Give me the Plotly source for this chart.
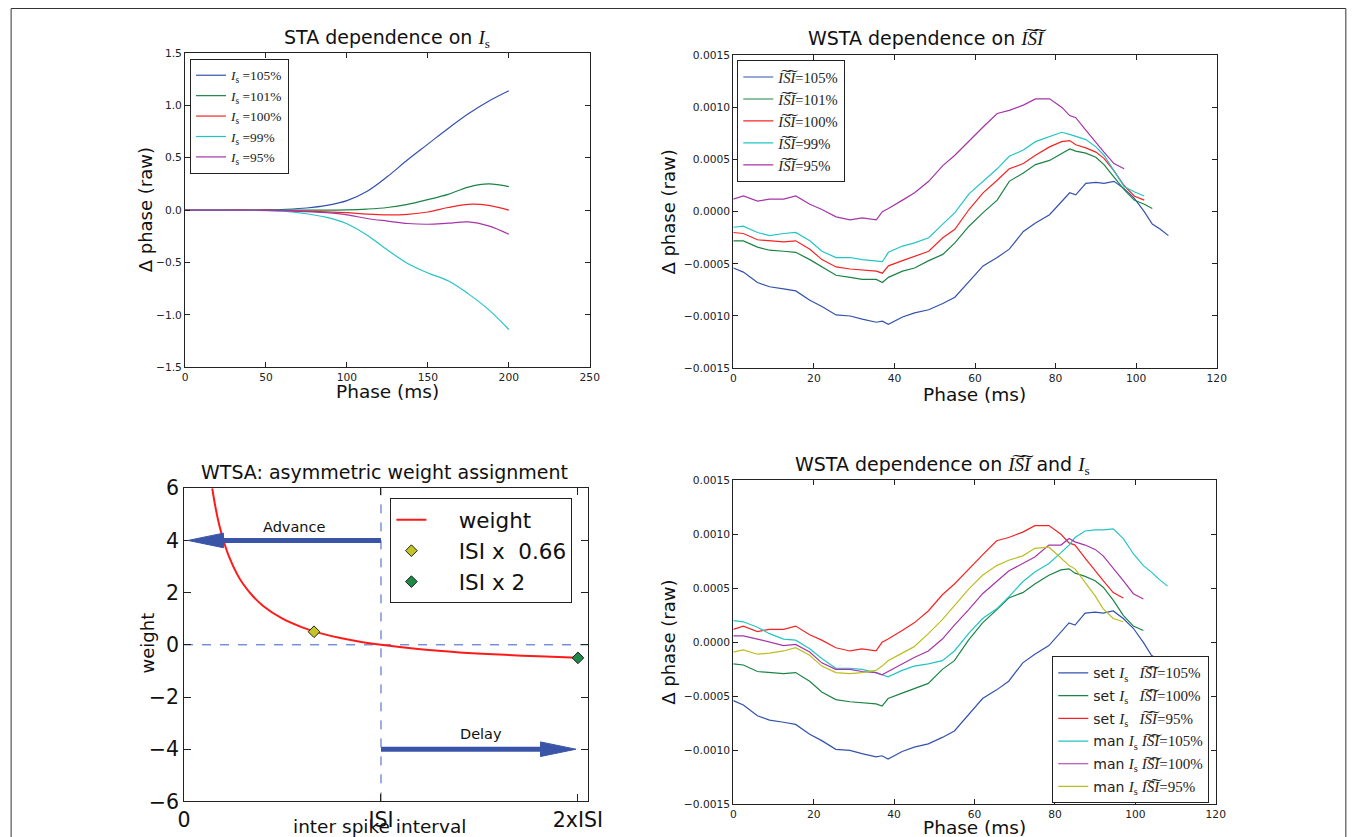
import plotly.graph_objects as go

# figure size in page pixels
W, H = 1362, 842
# the photographed picture shows the page shifted and slightly shrunk; positions below are
# given in picture pixels and mapped back to page pixels with this measured transform
AX, SX, AY, SY = 12.4, 0.987, 20.0, 0.971

# ---- STA dependence on I_s (smooth curves)
sta_phase = [0, 25, 50, 62.5, 75, 87.5, 100, 112.5, 125, 137.5, 150, 162.5, 175, 187.5, 200]
sta_105 = [0, 0, 0.002, 0.008, 0.02, 0.045, 0.09, 0.18, 0.32, 0.48, 0.63, 0.78, 0.92, 1.04, 1.14]
sta_101 = [0, 0, 0, 0, 0, 0, 0.002, 0.01, 0.025, 0.055, 0.1, 0.15, 0.22, 0.25, 0.225]
sta_100 = [0, 0, 0, -0.004, -0.01, -0.016, -0.025, -0.038, -0.045, -0.04, -0.018, 0.025, 0.055, 0.045, 0.0]
sta_99 = [0, -0.001, -0.005, -0.013, -0.035, -0.07, -0.13, -0.24, -0.38, -0.51, -0.6, -0.675, -0.8, -0.95, -1.14]
sta_95 = [0, 0, -0.002, -0.007, -0.015, -0.025, -0.045, -0.08, -0.105, -0.128, -0.135, -0.125, -0.113, -0.15, -0.23]

# ---- WSTA curves (phase in ms)
wsta_phase = [0, 2.5, 6, 9, 12.5, 15.5, 19, 22, 25.5, 29, 32, 35.5, 37, 38.5, 42, 45, 48.5, 52, 55, 58.5,
              62, 65.5, 68.5, 72, 75, 78.5, 81.5, 83.5, 85, 87.5, 90, 92, 94.5, 97, 99.5, 102, 104, 106, 108]
isi_105 = [-0.00054, -0.00058, -0.00068, -0.00072, -0.00074, -0.00076, -0.00085, -0.00091, -0.00099, -0.00100,
           -0.00103, -0.00106, -0.00105, -0.00108, -0.00101, -0.00097, -0.00094, -0.00088, -0.00082, -0.00067,
           -0.00052, -0.00044, -0.00036, -0.00019, -0.00011, -0.00003, 0.00010, 0.00018, 0.00016, 0.00027,
           0.00028, 0.00027, 0.00029, 0.00022, 0.00013, 0.00000, -0.00012, -0.00017, -0.00023]
isi_101 = [-0.00028, -0.00028, -0.00034, -0.00037, -0.00038, -0.00039, -0.00046, -0.00053, -0.00061, -0.00063,
           -0.00065, -0.00065, -0.00068, -0.00063, -0.00057, -0.00054, -0.00047, -0.00041, -0.00030, -0.00014,
           -0.00001, 0.00011, 0.00029, 0.00037, 0.00045, 0.00049, 0.00056, 0.00060, 0.00058, 0.00056,
           0.00052, 0.00045, 0.00033, 0.00021, 0.00011, 0.00007, 0.00003]
isi_100 = [-0.00020, -0.00021, -0.00027, -0.00028, -0.00029, -0.00028, -0.00036, -0.00046, -0.00053, -0.00055,
           -0.00056, -0.00057, -0.00059, -0.00052, -0.00047, -0.00043, -0.00038, -0.00025, -0.00017, 0.00002,
           0.00018, 0.00030, 0.00041, 0.00046, 0.00054, 0.00062, 0.00067, 0.00068, 0.00064, 0.00061,
           0.00057, 0.00051, 0.00039, 0.00025, 0.00015, 0.00011]
isi_99 = [-0.00015, -0.00014, -0.00020, -0.00023, -0.00021, -0.00020, -0.00028, -0.00038, -0.00044, -0.00044,
          -0.00046, -0.00047, -0.00048, -0.00039, -0.00033, -0.00030, -0.00025, -0.00012, -0.00001, 0.00017,
          0.00029, 0.00041, 0.00053, 0.00059, 0.00067, 0.00072, 0.00076, 0.00074, 0.00072, 0.00069,
          0.00062, 0.00054, 0.00039, 0.00024, 0.00019, 0.00015]
isi_95 = [0.00012, 0.00015, 0.00010, 0.00012, 0.00012, 0.00015, 0.00007, 0.00002, -0.00005, -0.00008,
          -0.00006, -0.00008, 0.00000, 0.00003, 0.00011, 0.00018, 0.00029, 0.00044, 0.00054, 0.00068,
          0.00081, 0.00094, 0.00097, 0.00102, 0.00108, 0.00108, 0.00100, 0.00092, 0.00090, 0.00078,
          0.00066, 0.00057, 0.00046, 0.00041]
man_105 = [0.00020, 0.00019, 0.00014, 0.00008, 0.00003, 0.00002, -0.00006, -0.00015, -0.00024, -0.00024,
           -0.00025, -0.00028, -0.00030, -0.00032, -0.00026, -0.00022, -0.00020, -0.00017, -0.00008, 0.00008,
           0.00022, 0.00031, 0.00042, 0.00056, 0.00065, 0.00073, 0.00083, 0.00090, 0.00097, 0.00103,
           0.00104, 0.00104, 0.00105, 0.00096, 0.00082, 0.00071, 0.00065, 0.00058, 0.00052]
man_100 = [0.00006, 0.00006, 0.00003, 0.00000, -0.00003, -0.00002, -0.00009, -0.00019, -0.00025, -0.00025,
           -0.00027, -0.00028, -0.00030, -0.00027, -0.00020, -0.00014, -0.00008, 0.00003, 0.00016, 0.00030,
           0.00045, 0.00056, 0.00066, 0.00073, 0.00079, 0.00090, 0.00090, 0.00096, 0.00093, 0.00090,
           0.00086, 0.00080, 0.00069, 0.00057, 0.00045, 0.00040]
man_95 = [-0.00009, -0.00007, -0.00011, -0.00010, -0.00008, -0.00005, -0.00012, -0.00022, -0.00028, -0.00029,
          -0.00028, -0.00026, -0.00022, -0.00017, -0.00010, -0.00004, 0.00008, 0.00021, 0.00034, 0.00049,
          0.00062, 0.00071, 0.00076, 0.00080, 0.00087, 0.00088, 0.00078, 0.00071, 0.00068, 0.00056,
          0.00043, 0.00031, 0.00022, 0.00019]

# ---- weight function (ISI units)
w_isi = [0.143, 0.16, 0.18, 0.2, 0.23, 0.27, 0.3, 0.35, 0.4, 0.5, 0.6, 0.7, 0.8, 0.9, 1.0, 1.2, 1.4, 1.6, 1.8, 2.0]
w_val = [6.0, 5.25, 4.55, 4.0, 3.35, 2.7, 2.33, 1.86, 1.5, 1.0, 0.67, 0.43, 0.25, 0.11, 0.0,
         -0.17, -0.29, -0.375, -0.44, -0.5]
short_isi, short_w = [0.66], [0.5]
long_isi, long_w = [2.0], [-0.5]

BLUE, GREEN, RED = "#3352ad", "#1b8445", "#f52424"
CYAN, PURPLE, YELLOW = "#25c4c4", "#a535a8", "#bdbd22"
ARROW = "#3a55a8"
SANS = "DejaVu Sans"
SERIF = "Liberation Serif"


def px(x):
    return (x - AX) / SX / W


def py(y):
    return 1 - (y - AY) / SY / H


IS = '<span style="font-family:%s"><i>I</i><sub>s</sub></span>' % SERIF
ISI = '<span style="font-family:%s"><i>I\u0360S\u0360I</i></span>' % SERIF


def mixed(prefix, pct, gap):
    s = '<span style="font-family:%s;font-size:15px"><i>I</i><sub>s</sub>%s<i>I\u0360S\u0360I</i>=%s</span>'
    return prefix + " " + s % (SERIF, gap, pct)


fig = go.Figure()


def add_line(x, y, name, color, ax, leg, shape="linear"):
    fig.add_trace(go.Scatter(
        x=x[:len(y)], y=y, mode="lines", name=name,
        line=dict(color=color, width=1.2, shape=shape),
        xaxis="x" + ax, yaxis="y" + ax, legend=leg, legendgroup=leg + name,
    ))


# top left
for y, lab, c in [(sta_105, "105%", BLUE), (sta_101, "101%", GREEN), (sta_100, "100%", RED),
                  (sta_99, "99%", CYAN), (sta_95, "95%", PURPLE)]:
    add_line(sta_phase, y, "<i>I</i><sub>s</sub> =" + lab, c, "", "legend", shape="spline")

# top right
for y, lab, c in [(isi_105, "105%", BLUE), (isi_101, "101%", GREEN), (isi_100, "100%", RED),
                  (isi_99, "99%", CYAN), (isi_95, "95%", PURPLE)]:
    add_line(wsta_phase, y, "<i>I\u0360S\u0360I</i>=" + lab, c, "2", "legend2")

# bottom left
pad = "&nbsp;" * 4
fig.add_trace(go.Scatter(x=w_isi, y=w_val, mode="lines", name=pad + "weight",
                         line=dict(color="#ff1a1a", width=2, shape="spline"),
                         xaxis="x3", yaxis="y3", legend="legend3", legendgroup="w"))
fig.add_trace(go.Scatter(x=short_isi, y=short_w, mode="markers", name=pad + "ISI x  0.66",
                         marker=dict(symbol="diamond", size=9, color="#c4c422", line=dict(color="#222", width=1)),
                         xaxis="x3", yaxis="y3", legend="legend3", legendgroup="s", cliponaxis=False))
fig.add_trace(go.Scatter(x=long_isi, y=long_w, mode="markers", name=pad + "ISI x 2",
                         marker=dict(symbol="diamond", size=9, color="#1d8a45", line=dict(color="#222", width=1)),
                         xaxis="x3", yaxis="y3", legend="legend3", legendgroup="l", cliponaxis=False))

# bottom right
for y, name, c in [(isi_105, mixed("set", "105%", "&nbsp;&nbsp;&nbsp;"), BLUE),
                   (isi_100, mixed("set", "100%", "&nbsp;&nbsp;&nbsp;"), GREEN),
                   (isi_95, mixed("set", "95%", "&nbsp;&nbsp;&nbsp;"), RED),
                   (man_105, mixed("man", "105%", "&nbsp;"), CYAN),
                   (man_100, mixed("man", "100%", "&nbsp;"), PURPLE),
                   (man_95, mixed("man", "95%", "&nbsp;"), YELLOW)]:
    add_line(wsta_phase, y, name, c, "4", "legend4")

tickfont = dict(family=SANS, size=10.7, color="#222")
base = dict(showline=True, linecolor="#222", linewidth=1, mirror="ticks", ticks="inside",
            ticklen=5, tickcolor="#222", showgrid=False, zeroline=False, tickfont=tickfont)
bigtick = dict(family=SANS, size=20.5, color="#111")

layout = dict(
    width=W, height=H, margin=dict(l=0, r=0, t=0, b=0),
    paper_bgcolor="white", plot_bgcolor="white", showlegend=True,
    xaxis=dict(base, domain=[px(183), px(589)], anchor="y", range=[0, 250], dtick=50),
    yaxis=dict(base, domain=[py(367), py(53)], anchor="x", range=[-1.5, 1.5], dtick=0.5, tickformat=".1f"),
    xaxis2=dict(base, domain=[px(733), px(1218)], anchor="y2", range=[0, 120], dtick=20),
    yaxis2=dict(base, domain=[py(368), py(55)], anchor="x2", range=[-0.0015, 0.0015], dtick=0.0005,
                tickformat=".4f"),
    xaxis3=dict(base, domain=[px(182), px(587)], anchor="y3", range=[0, 2.05], tickvals=[0, 1, 2],
                ticktext=["0", "ISI", "2xISI"], ticklen=7, tickfont=bigtick),
    yaxis3=dict(base, domain=[py(801), py(488)], anchor="x3", range=[-6, 6], dtick=2, ticklen=7,
                tickfont=bigtick),
    xaxis4=dict(base, domain=[px(733), px(1217)], anchor="y4", range=[0, 120], dtick=20),
    yaxis4=dict(base, domain=[py(804), py(480)], anchor="x4", range=[-0.0015, 0.0015], dtick=0.0005,
                tickformat=".4f"),
)

legbox = dict(bgcolor="white", bordercolor="#222", borderwidth=1, xanchor="left", yanchor="top")
layout["legend"] = dict(legbox, x=px(188), y=py(59), font=dict(family=SERIF, size=13.4, color="#222"),
                        tracegroupgap=0)
layout["legend2"] = dict(legbox, x=px(737), y=py(60), font=dict(family=SERIF, size=14.6, color="#222"),
                         tracegroupgap=0)
layout["legend3"] = dict(legbox, x=px(389), y=py(498), font=dict(family=SANS, size=21.5, color="#111"),
                         tracegroupgap=0)
layout["legend4"] = dict(legbox, x=px(1053), y=py(656), font=dict(family=SANS, size=14, color="#222"),
                         tracegroupgap=1.5)
fig.update_layout(**layout)


def label(text, x, y, size=18.5, angle=0, family=SANS):
    fig.add_annotation(text=text, x=px(x), y=py(y), xref="paper", yref="paper", showarrow=False,
                       xanchor="center", yanchor="middle", textangle=angle,
                       font=dict(family=family, size=size, color="#111"))


label("STA dependence on " + IS, 386, 38, 19)
label("WSTA dependence on " + ISI, 928, 38, 19)
label("WTSA: asymmetric weight assignment", 383, 472, 19)
label("WSTA dependence on " + ISI + " and " + IS, 943, 465, 19)
label("Phase (ms)", 386, 391)
label("Phase (ms)", 975, 394)
label("Phase (ms)", 975, 827)
label("\u0394 phase (raw)", 143, 210, 18, angle=-90)
label("\u0394 phase (raw)", 668, 212, 18, angle=-90)
label("\u0394 phase (raw)", 668, 642, 18, angle=-90)
label("weight", 145, 643, 18, angle=-90)
label("inter spike interval", 378, 826)

# annotation arrows and text on the weight panel
fig.add_annotation(text="Advance", x=0.56, y=4.5, xref="x3", yref="y3", showarrow=False,
                   font=dict(family=SANS, size=14.5, color="#111"))
fig.add_annotation(text="Delay", x=1.51, y=-3.4, xref="x3", yref="y3", showarrow=False,
                   font=dict(family=SANS, size=14.5, color="#111"))
fig.add_shape(type="line", x0=1.0, x1=0.19, y0=4, y1=4, xref="x3", yref="y3",
              line=dict(color=ARROW, width=5))
fig.add_shape(type="path", path="M 0.2 3.72 L 0.02 4 L 0.2 4.28 Z", xref="x3", yref="y3",
              fillcolor=ARROW, line=dict(color=ARROW, width=1))
fig.add_shape(type="line", x0=1.0, x1=1.82, y0=-4, y1=-4, xref="x3", yref="y3",
              line=dict(color=ARROW, width=5))
fig.add_shape(type="path", path="M 1.81 -4.28 L 1.99 -4 L 1.81 -3.72 Z", xref="x3", yref="y3",
              fillcolor=ARROW, line=dict(color=ARROW, width=1))
# dashed reference lines
fig.add_shape(type="line", x0=0, x1=1, y0=0, y1=0, xref="x3 domain", yref="y3",
              line=dict(color="#3a5cc0", width=1, dash="dash"), layer="below")
fig.add_shape(type="line", x0=1, x1=1, y0=0, y1=1, xref="x3", yref="y3 domain",
              line=dict(color="#3a5cc0", width=1, dash="dash"), layer="below")

# outer frame
fig.add_shape(type="rect", x0=px(8.5), x1=px(1347.5), y0=py(870), y1=py(8.5), xref="paper", yref="paper",
              line=dict(color="#333", width=1), layer="below")

fig.write_html("out.html")
